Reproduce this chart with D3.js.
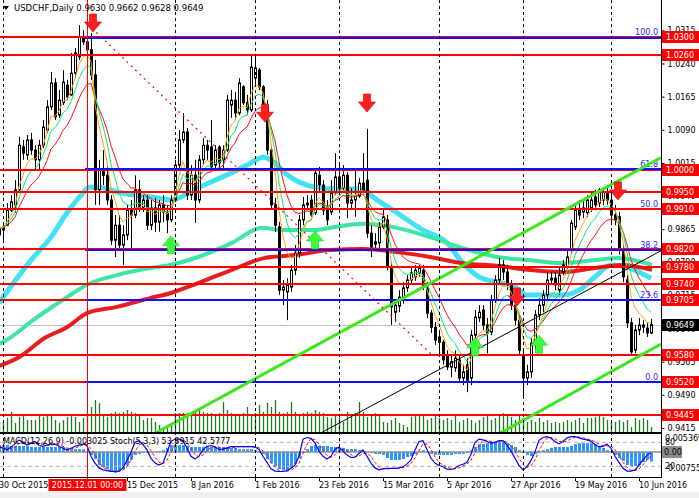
<!DOCTYPE html>
<meta charset="utf-8">
<head>
  <title>USDCHF, Daily</title>
</head>

<style>
body { margin: 0; background: #fff; }
svg { display: block; }
text {
  font-family: "DejaVu Sans", Verdana, sans-serif;
  font-size: 8px;
  fill: #000;
}
.tag text { fill: #fff; }
.fib { fill: #2828ff; }
</style>

<body>
  <svg width="699" height="498"></svg>

  <script src="https://cdnjs.cloudflare.com/ajax/libs/d3/7.8.5/d3.min.js"></script>
  <script>
// daily bars, 30 Oct 2015 .. 15 Jun 2016
var opens = [0.9852,0.9863,0.9874,0.9908,0.9920,0.9954,1.0051,1.0033,1.0067,1.0044,
  1.0022,1.0055,1.0089,1.0142,1.0196,1.0123,1.0151,1.0191,1.0169,1.0218,
  1.0255,1.0300,1.0289,1.0271,1.0214,0.9954,0.9999,0.9987,0.9931,0.9840,
  0.9874,0.9829,0.9852,0.9908,0.9897,0.9954,0.9913,0.9931,0.9874,0.9913,
  0.9881,0.9920,0.9904,0.9886,0.9931,1.0010,1.0067,1.0085,0.9942,0.9987,
  0.9931,1.0022,1.0055,1.0051,1.0010,1.0051,1.0022,1.0044,1.0146,1.0157,
  1.0128,1.0187,1.0151,1.0135,1.0207,1.0225,1.0187,1.0142,1.0044,0.9920,
  0.9870,0.9727,0.9723,0.9734,0.9772,0.9811,0.9886,0.9920,0.9931,0.9902,
  0.9987,0.9965,0.9915,0.9904,0.9947,0.9983,0.9958,0.9987,0.9924,0.9931,
  0.9940,0.9969,0.9976,0.9856,0.9831,0.9834,0.9870,0.9886,0.9779,0.9677,
  0.9691,0.9705,0.9732,0.9750,0.9757,0.9766,0.9772,0.9734,0.9675,0.9643,
  0.9621,0.9609,0.9580,0.9553,0.9551,0.9569,0.9528,0.9558,0.9528,0.9625,
  0.9664,0.9682,0.9648,0.9632,0.9705,0.9750,0.9784,0.9768,0.9739,0.9693,
  0.9659,0.9580,0.9528,0.9542,0.9607,0.9671,0.9693,0.9716,0.9750,0.9754,
  0.9727,0.9768,0.9779,0.9818,0.9870,0.9908,0.9904,0.9902,0.9913,0.9938,
  0.9924,0.9931,0.9949,0.9931,0.9897,0.9893,0.9818,0.9750,0.9653,0.9591,
  0.9637,0.9643,0.9641,0.9630];
var highs = [0.9881,0.9881,0.9924,0.9942,0.9976,1.0074,1.0067,1.0078,1.0083,1.0055,
  1.0067,1.0112,1.0157,1.0221,1.0207,1.0180,1.0225,1.0203,1.0264,1.0275,
  1.0327,1.0316,1.0329,1.0309,1.0248,1.0022,1.0044,1.0010,0.9942,0.9897,
  0.9897,0.9874,0.9920,0.9931,0.9987,0.9976,0.9942,0.9942,0.9931,0.9936,
  0.9931,0.9942,0.9920,0.9942,1.0022,1.0089,1.0128,1.0094,1.0010,1.0022,
  1.0033,1.0071,1.0067,1.0112,1.0055,1.0055,1.0055,1.0169,1.0180,1.0176,
  1.0207,1.0191,1.0169,1.0259,1.0262,1.0230,1.0191,1.0157,1.0055,0.9936,
  0.9881,0.9750,0.9754,0.9784,0.9829,0.9897,0.9938,0.9942,0.9942,1.0003,
  1.0006,0.9976,0.9931,0.9976,1.0037,1.0015,1.0010,0.9994,0.9958,0.9999,
  0.9981,1.0037,1.0092,0.9874,0.9856,0.9881,0.9913,0.9897,0.9791,0.9705,
  0.9727,0.9745,0.9761,0.9777,0.9784,0.9784,0.9784,0.9745,0.9682,0.9655,
  0.9637,0.9614,0.9591,0.9580,0.9591,0.9580,0.9558,0.9573,0.9637,0.9682,
  0.9693,0.9693,0.9664,0.9716,0.9761,0.9800,0.9795,0.9784,0.9750,0.9705,
  0.9671,0.9591,0.9558,0.9618,0.9682,0.9709,0.9727,0.9768,0.9768,0.9768,
  0.9777,0.9795,0.9818,0.9886,0.9920,0.9931,0.9931,0.9942,0.9947,0.9954,
  0.9958,0.9960,0.9965,0.9954,0.9920,0.9904,0.9829,0.9761,0.9664,0.9648,
  0.9664,0.9659,0.9655,0.9662];
var lows = [0.9829,0.9834,0.9872,0.9904,0.9902,0.9947,1.0022,1.0022,1.0033,0.9999,
  0.9999,1.0049,1.0083,1.0135,1.0112,1.0117,1.0146,1.0157,1.0167,1.0207,
  1.0248,1.0282,1.0253,1.0203,0.9920,0.9920,0.9965,0.9920,0.9829,0.9802,
  0.9818,0.9784,0.9840,0.9818,0.9890,0.9904,0.9904,0.9863,0.9863,0.9859,
  0.9859,0.9881,0.9856,0.9881,0.9927,1.0003,1.0060,0.9931,0.9931,0.9879,
  0.9924,1.0010,1.0022,0.9999,0.9999,1.0003,0.9999,1.0040,1.0117,1.0117,
  1.0123,1.0146,1.0123,1.0130,1.0191,1.0180,1.0135,1.0033,0.9908,0.9859,
  0.9716,0.9693,0.9659,0.9723,0.9761,0.9800,0.9874,0.9908,0.9886,0.9897,
  0.9949,0.9897,0.9874,0.9897,0.9942,0.9949,0.9954,0.9890,0.9913,0.9893,
  0.9936,0.9942,0.9845,0.9802,0.9818,0.9818,0.9865,0.9772,0.9648,0.9655,
  0.9677,0.9696,0.9723,0.9741,0.9748,0.9757,0.9727,0.9664,0.9630,0.9603,
  0.9576,0.9558,0.9546,0.9530,0.9542,0.9519,0.9512,0.9496,0.9512,0.9614,
  0.9655,0.9637,0.9584,0.9625,0.9698,0.9739,0.9750,0.9727,0.9682,0.9648,
  0.9580,0.9483,0.9512,0.9528,0.9591,0.9659,0.9677,0.9705,0.9739,0.9727,
  0.9716,0.9761,0.9772,0.9811,0.9863,0.9886,0.9890,0.9893,0.9904,0.9908,
  0.9915,0.9920,0.9920,0.9874,0.9874,0.9807,0.9745,0.9641,0.9578,0.9584,
  0.9625,0.9630,0.9621,0.9628];
var closes = [0.9868,0.9870,0.9908,0.9927,0.9954,1.0055,1.0037,1.0067,1.0044,1.0022,
  1.0055,1.0096,1.0142,1.0196,1.0119,1.0157,1.0198,1.0164,1.0218,1.0264,
  1.0300,1.0289,1.0271,1.0214,0.9954,0.9999,0.9987,0.9931,0.9840,0.9874,
  0.9829,0.9852,0.9908,0.9897,0.9954,0.9913,0.9931,0.9874,0.9913,0.9881,
  0.9920,0.9904,0.9886,0.9931,1.0010,1.0067,1.0085,0.9942,0.9987,0.9931,
  1.0022,1.0055,1.0044,1.0006,1.0044,1.0015,1.0044,1.0157,1.0157,1.0128,
  1.0196,1.0151,1.0135,1.0232,1.0230,1.0187,1.0142,1.0044,0.9920,0.9874,
  0.9727,0.9734,0.9739,0.9772,0.9811,0.9886,0.9920,0.9924,0.9897,0.9992,
  0.9965,0.9908,0.9886,0.9947,0.9983,0.9958,0.9987,0.9924,0.9931,0.9940,
  0.9969,0.9954,0.9856,0.9825,0.9836,0.9870,0.9893,0.9779,0.9689,0.9693,
  0.9711,0.9732,0.9750,0.9766,0.9772,0.9777,0.9734,0.9675,0.9643,0.9614,
  0.9609,0.9569,0.9553,0.9565,0.9573,0.9528,0.9542,0.9523,0.9625,0.9666,
  0.9677,0.9648,0.9630,0.9705,0.9750,0.9784,0.9768,0.9739,0.9693,0.9659,
  0.9591,0.9528,0.9542,0.9607,0.9671,0.9693,0.9716,0.9750,0.9754,0.9739,
  0.9761,0.9784,0.9802,0.9879,0.9908,0.9897,0.9913,0.9931,0.9931,0.9920,
  0.9954,0.9949,0.9931,0.9897,0.9886,0.9818,0.9757,0.9653,0.9587,0.9637,
  0.9648,0.9648,0.9630,0.9649];
var volumes = [36,33,45,63,30,48,54,39,39,39, 54,48,54,54,39,30,39,48,54,48,
  33,45,60,78,99,90,54,48,60,63, 60,63,69,63,60,54,39,45,45,33,
  24,15,18,24,60,60,60,60,60,69, 75,63,60,60,54,60,93,69,60,54,
  54,60,78,54,60,84,63,90,78,99, 63,60,63,93,63,54,60,63,60,69,
  63,60,48,45,54,48,33,63,48,60, 93,63,48,54,60,54,33,30,39,45,
  30,24,18,48,54,54,54,39,45,54, 45,39,45,39,54,33,39,45,39,30,
  39,48,54,39,45,54,60,54,48,39, 54,45,33,39,33,45,33,39,30,33,
  30,33,39,33,39,45,30,45,45,48, 54,48,39,33,33,39,33,39,18,45,
  39,45,39,18];

// MACD(12,26,9) histogram and Stoch(5,3,3) main line
var macd = [0.0022,0.0022,0.0022,0.0019,0.0019,0.0019,0.0019,0.0019,0.0016,0.0016,
  0.0016,0.0016,0.0016,0.0016,0.0016,0.0016,0.0016,0.0009,0.0009,0.0009,
  0.0009,0.0009,-0.0003,-0.0009,-0.0022,-0.0041,-0.0047,-0.0054,-0.0063,-0.0066,
  -0.0060,-0.0054,-0.0041,-0.0025,-0.0009,-0.0006,-0.0003,-0.0003,0,0,
  0.0003,0.0006,0.0013,0.0022,0.0022,0.0022,0.0022,0.0019,0.0016,0.0016,
  0.0016,0.0016,0.0016,0.0016,0.0016,0.0016,0.0016,0.0013,0.0013,0.0013,
  0.0009,0.0009,0.0009,0.0009,0.0006,0.0003,-0.0006,-0.0022,-0.0035,-0.0044,
  -0.0054,-0.0057,-0.0057,-0.0050,-0.0038,-0.0019,-0.0003,0.0009,0.0019,0.0022,
  0.0019,0.0019,0.0019,0.0016,0.0016,0.0013,0.0013,0.0009,0.0009,0.0009,
  0.0006,0.0003,0,-0.0003,-0.0006,-0.0006,-0.0009,-0.0019,-0.0025,-0.0025,
  -0.0025,-0.0022,-0.0016,-0.0013,-0.0006,0.0003,0.0006,0,-0.0006,-0.0009,
  -0.0009,-0.0009,-0.0009,-0.0009,-0.0006,-0.0006,-0.0006,-0.0003,0.0006,0.0016,
  0.0025,0.0025,0.0028,0.0032,0.0032,0.0032,0.0032,0.0028,0.0022,0.0016,
  0.0006,-0.0003,-0.0009,-0.0013,-0.0006,0,0.0006,0.0009,0.0013,0.0016,
  0.0016,0.0016,0.0016,0.0019,0.0025,0.0028,0.0028,0.0028,0.0028,0.0025,
  0.0019,0.0013,0.0006,0,-0.0009,-0.0019,-0.0028,-0.0041,-0.0044,-0.0044,
  -0.0041,-0.0032,-0.0025,-0.0030];
var stochMain = [69,65,61,68,76,86,80,73,78,82, 72,70,73,76,75,70,65,61,65,70,
  73,76,72,45,28,16,11,9,7,7, 8,16,35,55,80,84,75,61,40,28,
  23,28,55,82,88,88,84,65,45,38, 46,61,70,72,68,62,63,66,69,69,
  69,69,69,69,68,62,45,30,14,8, 7,7,9,15,23,45,88,92,90,78,
  58,45,38,45,63,68,58,48,42,43, 52,61,45,28,16,11,14,15,15,15,
  16,19,26,36,61,82,84,62,40,28, 22,19,13,12,15,22,25,30,50,80,
  88,86,82,78,80,84,84,73,58,40, 22,11,19,34,56,85,92,94,90,82,
  76,82,91,94,94,91,88,86,83,74, 69,70,76,65,45,30,15,8,8,11,
  23,36,48,54];

// slow moving averages: [bar, price]
var ema55 = [[0,0.9698],[8,0.9795],[13,0.9847],[17,0.9902],[21,0.9947],[22.5,0.9960],[25,0.9960],
  [29.5,0.9949],[33.5,0.9942],[38,0.9938],[43,0.9931],[50,0.9960],[58,0.9992],[63,1.0015],
  [66,1.0028],[69,1.0015],[71.5,0.9992],[75,0.9972],[79,0.9960],[84,0.9956],[91,0.9956],
  [93.5,0.9938],[99.5,0.9902],[106,0.9863],[112,0.9834],[116,0.9788],[120,0.9757],
  [124.5,0.9745],[129,0.9734],[132,0.9716],[141,0.9716],[145,0.9727],[149,0.9757],
  [153,0.9784],[157,0.9779],[161.5,0.9761],[163,0.9754]];
var ema144 = [[0,0.9605],[2.75,0.9619],[8.5,0.9659],[17,0.9711],[22,0.9739],[29.5,0.9761],
  [37.75,0.9777],[42.75,0.9784],[49.75,0.9802],[58.25,0.9834],[65.75,0.9868],[70.75,0.9863],
  [79,0.9863],[84,0.9870],[91,0.9877],[99.5,0.9868],[107.75,0.9847],[116,0.9822],
  [124.5,0.9802],[132.25,0.9795],[140.75,0.9788],[149,0.9795],[154.75,0.9800],[163.25,0.9784]];
var ema200 = [[0,0.9555],[5,0.9575],[11.5,0.9619],[17,0.9643],[22,0.9675],[29.5,0.9689],
  [37.75,0.9709],[42.75,0.9720],[49.75,0.9743],[58.25,0.9773],[66.5,0.9800],[74.75,0.9807],
  [82.75,0.9818],[91,0.9820],[99.5,0.9813],[107.75,0.9802],[116,0.9788],[124.5,0.9782],
  [132.25,0.9773],[140.75,0.9768],[149,0.9777],[155.75,0.9784],[163.25,0.9773]];

var levels = [1.0300, 1.0260, 1.0000, 0.9950, 0.9910, 0.9820, 0.9780, 0.9740, 0.9705, 0.9580, 0.9520, 0.9445];
var fibHigh = 1.0300, fibLow = 0.9520, fibStartBar = 22;
var fibPct = [100.0, 61.8, 50.0, 38.2, 23.6, 0.0];
var priceTicks = [1.0315, 1.0240, 1.0165, 1.0090, 1.0015, 0.9940, 0.9865, 0.9790, 0.9715, 0.9640, 0.9565, 0.9490, 0.9415];
var dateTickBars = [0, 32, 48, 64, 80, 96, 112, 128, 144, 160];
var dateTicks = ["30 Oct 2015", "15 Dec 2015", "8 Jan 2016", "1 Feb 2016", "23 Feb 2016",
  "15 Mar 2016", "5 Apr 2016", "27 Apr 2016", "19 May 2016", "10 Jun 2016"];
var separatorBars = [1, 44, 64, 85, 110, 131, 153];
var markerBar = 22, markerLabel = "2015.12.01 00:00";

// drawn objects: [bar, price] end points
var channelUp = [[39, 0.9403], [165.5, 1.0027]];
var channelLow = [[125.25, 0.9403], [165.5, 0.9605]];
var thinTrend = [[80.5, 0.9404], [165.5, 0.9816]];
var dottedTrend = [[23.25, 1.0320], [108.25, 0.9580]];
var sellArrows = [[23.5, 1.0352], [66.5, 1.0148], [92, 1.0171], [129.5, 0.9732], [154.75, 0.9972]];
var buyArrows = [[43, 0.9850], [79, 0.9861], [119, 0.9619], [135, 0.9625]];

var svg = d3.select('svg');
var right = 661, mainBottom = 433, subTop = 434, subBottom = 477;

var x = d3.scaleLinear().domain([0, 163]).range([-1, 651]);
var y = d3.scaleLinear().domain([0.9445, 1.0300]).range([414.7, 37]);
var yVol = d3.scaleLinear().domain([0, 99]).range([mainBottom, 400]);
var yMacd = d3.scaleLinear().domain([-0.007555, 0.005369]).range([476, 435]);
var yStoch = d3.scaleLinear().domain([0, 100]).range([474.3, 434.3]);

function px(i) { return Math.round(x(i)) + 0.5; }
function py(v) { return Math.round(y(v)); }
function ema(values, n) {
  var k = 2 / (n + 1), prev = values[0];
  return values.map(function(v, i) {
    prev = i === 0 ? v : v * k + prev * (1 - k);
    return prev;
  });
}

var bars = closes.map(function(c, i) {
  return {i: i, o: opens[i], h: highs[i], l: lows[i], c: c, v: volumes[i]};
});

svg.append('rect').attr('width', 699).attr('height', 498).attr('fill', '#fff');
svg.append('rect').attr('y', 492).attr('width', 699).attr('height', 6).attr('fill', '#f0f0f0');

var defs = svg.append('defs');
defs.append('clipPath').attr('id', 'mainclip').append('rect')
  .attr('width', right).attr('height', mainBottom);
defs.append('clipPath').attr('id', 'subclip').append('rect')
  .attr('y', subTop).attr('width', right).attr('height', subBottom - subTop);

var main = svg.append('g').attr('clip-path', 'url(#mainclip)');

// volumes
main.selectAll('.vol').data(bars).enter().append('line')
  .attr('x1', function(d) { return px(d.i); })
  .attr('x2', function(d) { return px(d.i); })
  .attr('y1', mainBottom)
  .attr('y2', function(d) { return yVol(d.v); })
  .attr('stroke', '#1d7a1d')
  .attr('stroke-width', 1.3);

// bid line
var last = closes[closes.length - 1];
main.append('line').attr('x1', 0).attr('x2', right)
  .attr('y1', py(last) + 0.5).attr('y2', py(last) + 0.5)
  .attr('stroke', '#c0c0c0');

// slow averages
var maLine = d3.line()
  .x(function(d) { return x(d[0]); })
  .y(function(d) { return y(d[1]); })
  .curve(d3.curveMonotoneX);
[[ema55, '#3fe3f5', 5], [ema144, '#3de6a4', 4], [ema200, '#e81c1c', 4]].forEach(function(m) {
  main.append('path').datum(m[0]).attr('d', maLine)
    .attr('fill', 'none').attr('stroke', m[1]).attr('stroke-width', m[2]);
});

// candles
var candle = main.selectAll('.candle').data(bars).enter().append('g');
candle.append('line')
  .attr('x1', function(d) { return px(d.i); })
  .attr('x2', function(d) { return px(d.i); })
  .attr('y1', function(d) { return y(d.h); })
  .attr('y2', function(d) { return y(d.l); })
  .attr('stroke', '#000');
candle.append('rect')
  .attr('x', function(d) { return px(d.i) - 1; })
  .attr('width', 2)
  .attr('y', function(d) { return y(Math.max(d.o, d.c)); })
  .attr('height', function(d) { return Math.max(0.8, Math.abs(y(d.o) - y(d.c))); })
  .attr('fill', function(d) { return d.c >= d.o ? '#fff' : '#000'; })
  .attr('stroke', '#000');

// fast averages
var idxLine = d3.line()
  .x(function(d, i) { return x(i); })
  .y(function(d) { return y(d); });
[[13, '#ff1010'], [8, '#00ee77'], [5, '#ffa000']].forEach(function(m) {
  main.append('path').datum(ema(closes, m[0])).attr('d', idxLine)
    .attr('fill', 'none').attr('stroke', m[1]).attr('stroke-width', 1);
});

// levels
main.selectAll('.lvl').data(levels).enter().append('line')
  .attr('x1', 0).attr('x2', right)
  .attr('y1', function(d) { return py(d); })
  .attr('y2', function(d) { return py(d); })
  .attr('stroke', '#ff0000').attr('stroke-width', 2);

// fibonacci
var fib = fibPct.map(function(p) { return {p: p, v: fibLow + (fibHigh - fibLow) * p / 100}; });
main.selectAll('.fibl').data(fib.filter(function(d) { return d.p !== 50; })).enter().append('line')
  .attr('x1', x(fibStartBar) - 2).attr('x2', right)
  .attr('y1', function(d) { return py(d.v) + (d.p === 100 ? 1 : 0); })
  .attr('y2', function(d) { return py(d.v) + (d.p === 100 ? 1 : 0); })
  .attr('stroke', '#1010ff').attr('stroke-width', 2);
main.selectAll('.fibt').data(fib).enter().append('text')
  .attr('class', 'fib')
  .attr('x', right - 3)
  .attr('y', function(d) { return py(d.v) - 2; })
  .attr('text-anchor', 'end')
  .text(function(d) { return d.p.toFixed(1); });

// trend lines
var segLine = d3.line()
  .x(function(d) { return x(d[0]); })
  .y(function(d) { return y(d[1]); });
main.append('path').datum(thinTrend).attr('d', segLine)
  .attr('stroke', '#000').attr('stroke-width', 1).attr('fill', 'none');
[channelUp, channelLow].forEach(function(t) {
  main.append('path').datum(t).attr('d', segLine)
    .attr('stroke', '#3ce81c').attr('stroke-width', 3).attr('fill', 'none');
});
main.append('path').datum(dottedTrend).attr('d', segLine)
  .attr('stroke', '#ff0000').attr('stroke-width', 1.2)
  .attr('stroke-dasharray', '2,4').attr('fill', 'none');

// arrows
function downArrow(cx, top) {
  return 'M' + (cx - 3.5) + ',' + top + 'h7v8h5l-8.5,10l-8.5,-10h5z';
}
function upArrow(cx, top) {
  return 'M' + cx + ',' + top + 'l8.5,10h-5v8h-7v-8h-5z';
}
main.selectAll('.sell').data(sellArrows).enter().append('path')
  .attr('d', function(d) { return downArrow(x(d[0]), y(d[1])); })
  .attr('fill', '#ff1f1f').attr('stroke', '#d00000').attr('stroke-width', 0.6);
main.selectAll('.buy').data(buyArrows).enter().append('path')
  .attr('d', function(d) { return upArrow(x(d[0]), y(d[1])); })
  .attr('fill', '#3cff3c').attr('stroke', '#1ccc1c').attr('stroke-width', 0.6);

// sub window: MACD + Stochastic
var sub = svg.append('g').attr('clip-path', 'url(#subclip)');
sub.selectAll('.hist').data(macd).enter().append('line')
  .attr('x1', function(d, i) { return px(i); })
  .attr('x2', function(d, i) { return px(i); })
  .attr('y1', yMacd(0))
  .attr('y2', function(d) { return yMacd(d); })
  .attr('stroke', '#2f96ff').attr('stroke-width', 3);
sub.append('line').attr('x1', 0).attr('x2', right)
  .attr('y1', yMacd(0)).attr('y2', yMacd(0))
  .attr('stroke', '#909090').attr('stroke-width', 1.5);
[80, 20].forEach(function(l) {
  sub.append('line').attr('x1', 0).attr('x2', right)
    .attr('y1', yStoch(l)).attr('y2', yStoch(l))
    .attr('stroke', '#b0b0b0').attr('stroke-dasharray', '4,3');
});
var stochSignal = stochMain.map(function(v, i) {
  return d3.mean(stochMain.slice(Math.max(0, i - 2), i + 1));
});
var stochLine = d3.line()
  .x(function(d, i) { return x(i); })
  .y(function(d) { return yStoch(d); });
sub.append('path').datum(stochSignal).attr('d', stochLine)
  .attr('fill', 'none').attr('stroke', '#ff0000').attr('stroke-dasharray', '3,2');
sub.append('path').datum(stochMain).attr('d', stochLine)
  .attr('fill', 'none').attr('stroke', '#0000ff').attr('stroke-width', 1.2);

// period separators and the date marker
svg.selectAll('.sep').data(separatorBars).enter().append('line')
  .attr('x1', function(d) { return px(d); })
  .attr('x2', function(d) { return px(d); })
  .attr('y1', 0).attr('y2', subBottom)
  .attr('stroke', '#000').attr('stroke-dasharray', '3,3');
svg.append('line')
  .attr('x1', px(markerBar)).attr('x2', px(markerBar))
  .attr('y1', 0).attr('y2', subBottom + 2)
  .attr('stroke', '#ff0000');

// frames
svg.append('line').attr('x1', 0).attr('x2', right + 1).attr('y1', mainBottom).attr('y2', mainBottom)
  .attr('stroke', '#000').attr('stroke-width', 2);
svg.append('line').attr('x1', 0).attr('x2', right + 1).attr('y1', subBottom + 0.5).attr('y2', subBottom + 0.5)
  .attr('stroke', '#000');
svg.append('line').attr('x1', right + 0.5).attr('x2', right + 0.5).attr('y1', 0).attr('y2', subBottom + 1)
  .attr('stroke', '#000');

// price axis
var ax = svg.append('g').attr('transform', 'translate(' + (right + 0.5) + ',0)')
  .call(d3.axisRight(y).tickValues(priceTicks).tickSize(3).tickPadding(3)
    .tickFormat(d3.format('.4f')));
ax.select('.domain').remove();

function tag(g, value, text, fill, color) {
  var t = g.append('g').attr('class', 'tag');
  t.append('rect').attr('x', right + 1).attr('y', py(value) - 6)
    .attr('width', 699 - right).attr('height', 12).attr('fill', fill);
  t.append('text').attr('x', right + 5).attr('y', py(value)).attr('dy', '0.35em')
    .style('fill', color).text(text);
}
levels.forEach(function(l) { tag(svg, l, l.toFixed(4), '#ff0000', '#fff'); });
tag(svg, last, last.toFixed(4), '#000', '#fff');

// sub window scale labels
svg.append('text').attr('x', right + 4).attr('y', 441).text('0.005369');
svg.append('text').attr('x', right + 4).attr('y', yStoch(80) + 3).text('80');
svg.append('rect').attr('x', right + 1).attr('y', yMacd(0) - 6).attr('width', 20).attr('height', 12).attr('fill', '#8c8c8c');
svg.append('text').attr('x', right + 3).attr('y', yMacd(0)).attr('dy', '0.35em').text('0.00');
svg.append('text').attr('x', right + 4).attr('y', yStoch(20) + 3).text('20');
svg.append('text').attr('x', right + 4).attr('y', 471).text('-0.007555');

// time axis
svg.selectAll('.dtick').data(dateTickBars).enter().append('line')
  .attr('x1', function(d) { return px(d); })
  .attr('x2', function(d) { return px(d); })
  .attr('y1', subBottom).attr('y2', subBottom + 4)
  .attr('stroke', '#000');
svg.selectAll('.dlab').data(dateTickBars).enter().append('text')
  .attr('x', function(d) { return x(d); })
  .attr('y', 488)
  .text(function(d, i) { return dateTicks[i]; });
var mk = svg.append('g').attr('class', 'tag');
mk.append('rect').attr('x', px(markerBar) - 39).attr('y', 479).attr('width', 78).attr('height', 12).attr('fill', '#ff0000');
mk.append('text').attr('x', px(markerBar)).attr('y', 485).attr('dy', '0.35em')
  .attr('text-anchor', 'middle').text(markerLabel);

// headers
svg.append('path').attr('d', 'M3,6h6l-3,4z').attr('fill', '#000');
svg.append('text').attr('x', 14).attr('y', 11).style('font-size', '8.5px')
  .text('USDCHF,Daily ' + [opens[163], highs[163], lows[163], closes[163]].map(function(v) { return v.toFixed(4); }).join(' '));
svg.append('text').attr('x', 3).attr('y', 444)
  .text('MACD(12,26,9) -0.003025  Stoch(5,3,3) 53.8915 42.5777');
  </script>
</body>
</html>
